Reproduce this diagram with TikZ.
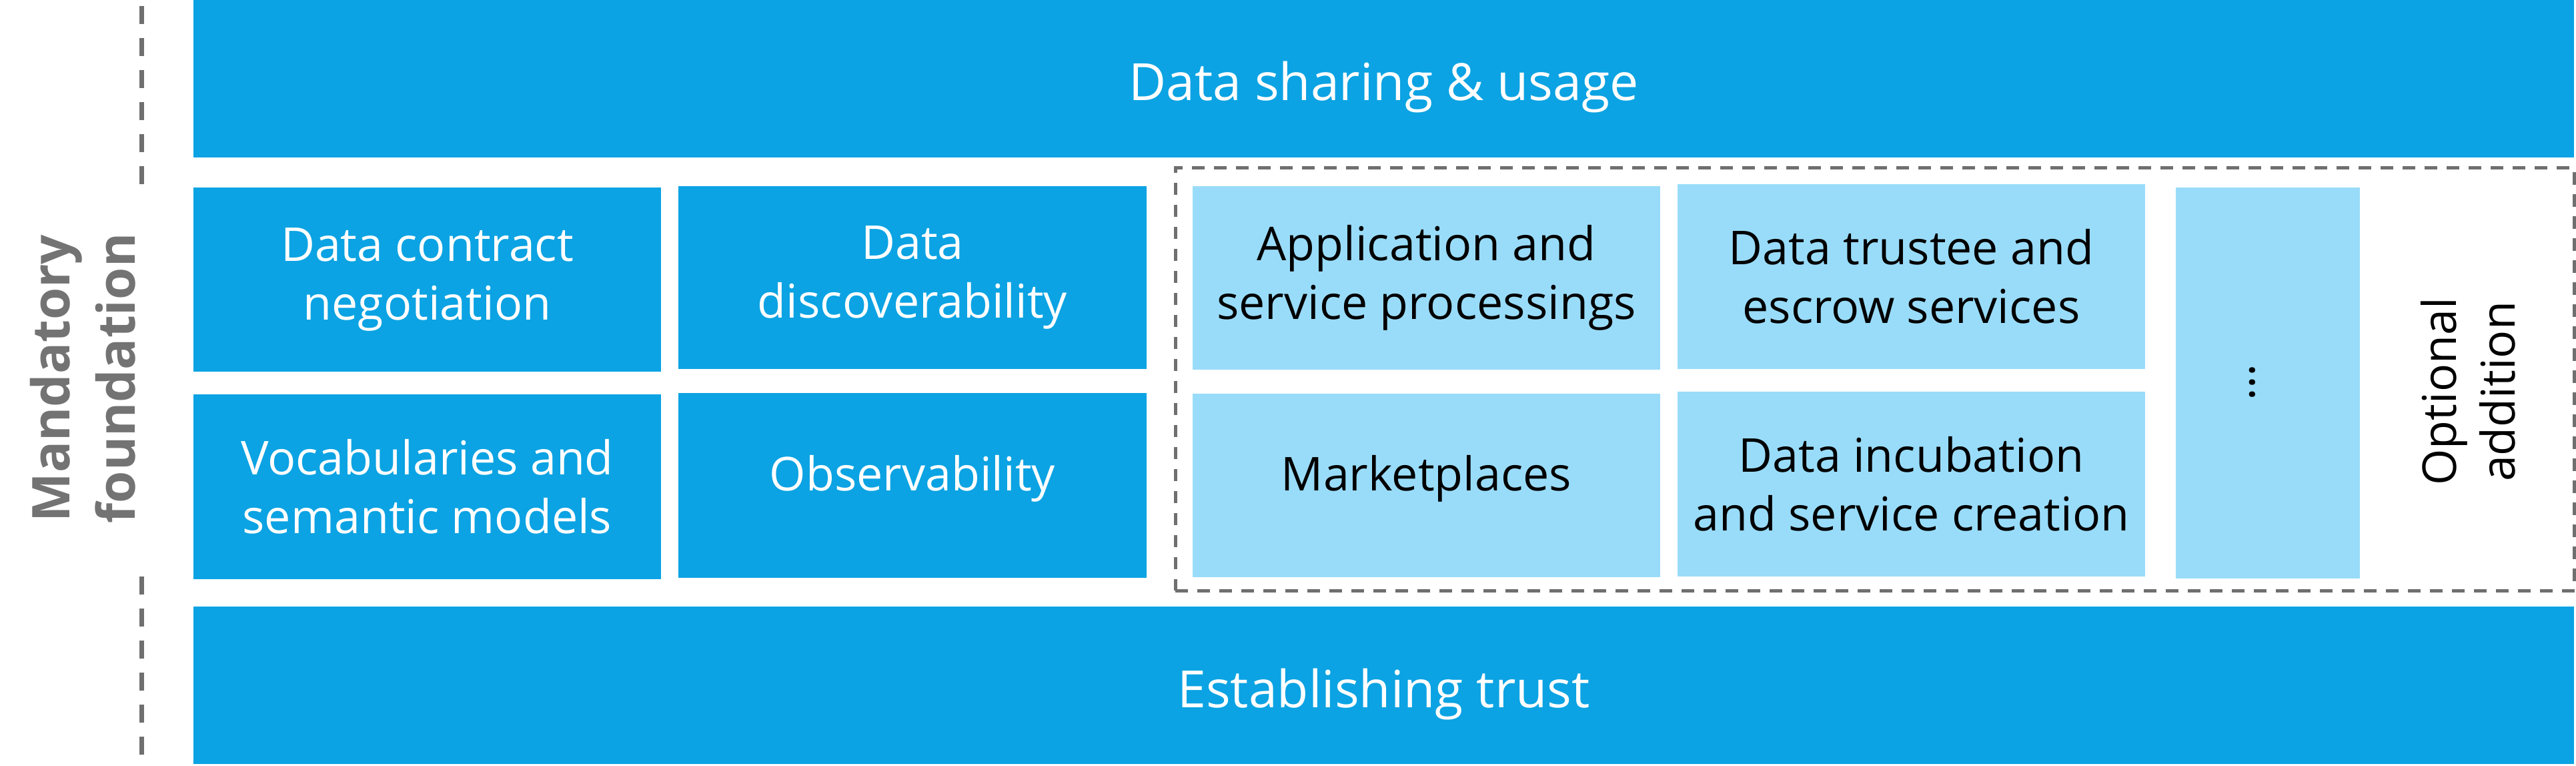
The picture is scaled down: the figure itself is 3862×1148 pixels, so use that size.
\documentclass[tikz,border=0pt]{standalone}
\usepackage{fontspec}
\setmainfont{Open Sans}
\definecolor{dblue}{HTML}{0BA3E3}
\definecolor{lblue}{HTML}{99DCF9}
\definecolor{tgray}{HTML}{737373}
\definecolor{lgray}{HTML}{6F6F6F}
\newcommand\bxfont{\fontsize{19.9pt}{25pt}\selectfont}
\newcommand\barfont{\fontsize{21.9pt}{26pt}\selectfont}
\newcommand\sidefont{\fontsize{22.2pt}{27.9pt}\selectfont\bfseries}
\begin{document}
\begin{tikzpicture}[x=0.1mm,y=-0.1mm,
  dbox/.style={fill=dblue, draw=none, text=white, inner sep=0pt, align=center, font=\bxfont},
  lbox/.style={fill=lblue, draw=none, text=black, inner sep=0pt, align=center, font=\bxfont},
  oneline/.style={text height=3.2mm, text depth=1.7mm},
  barbox/.style={fill=dblue, draw=none, text=white, inner sep=0pt, align=center, font=\barfont,
    minimum width=356.9mm, minimum height=23.6mm, text height=6.6mm, text depth=0mm},
  dashbox/.style={draw=lgray, line width=0.5mm, dash pattern=on 1.85mm off 1.45mm, fill=none, inner sep=0pt},
  sideline/.style={draw=lgray, line width=0.7mm, dash pattern=on 2.7mm off 2.1mm},
  sidelabel/.style={text=tgray, font=\sidefont, align=center, rotate=90, inner sep=0pt},
  optlabel/.style={text=black, font=\bxfont, align=center, rotate=90, inner sep=0pt}
]
\useasboundingbox (0,0) rectangle (3862,1148);
% bars
\node[barbox] (top) at (2074.5,118) {Data sharing \& usage};
\node[barbox] (bottom) at (2074.5,1027) {Establishing trust};
% mandatory boxes
\node[dbox, minimum width=70.1mm, minimum height=27.6mm] (contract) at (640.5,419) {Data contract\\negotiation};
\node[dbox, minimum width=70.2mm, minimum height=27.4mm] (discover) at (1368,416) {Data\\discoverability};
\node[dbox, minimum width=70.1mm, minimum height=27.7mm] (vocab) at (640.5,729.5) {Vocabularies and\\semantic models};
\node[dbox, oneline, minimum width=70.2mm, minimum height=27.7mm] (observ) at (1368,727.5) {Observability};
% optional region
\node[dashbox, minimum width=209.75mm, minimum height=63.38mm] (opt) at (2810.75,568.4) {};
\node[lbox, minimum width=70.1mm, minimum height=27.5mm] (app) at (2138.5,416.5) {Application and\\service processings};
\node[lbox, minimum width=70.1mm, minimum height=27.7mm] (trustee) at (2865.5,414.5) {Data trustee and\\escrow services};
\node[lbox, oneline, minimum width=70.1mm, minimum height=27.5mm] (market) at (2138.5,727.5) {Marketplaces};
\node[lbox, minimum width=70.1mm, minimum height=27.7mm] (incub) at (2865.5,725.5) {Data incubation\\and service creation};
\node[lbox, minimum width=27.6mm, minimum height=58.6mm] (more) at (3400,574) {};
\node[optlabel] (dots) at (3377,573) {…};
\node[optlabel] (optlabel) at (3700,587) {Optional\\addition};
% mandatory foundation label
\node[sidelabel] (mandlabel) at (124,567) {Mandatory\\foundation};
\coordinate (s1a) at (212.5,9);
\coordinate (s1b) at (212.5,276);
\coordinate (s2a) at (212.5,864);
\coordinate (s2b) at (212.5,1131);
\draw[sideline] (s1a) -- (s1b);
\draw[sideline] (s2a) -- (s2b);
\end{tikzpicture}
\end{document}
